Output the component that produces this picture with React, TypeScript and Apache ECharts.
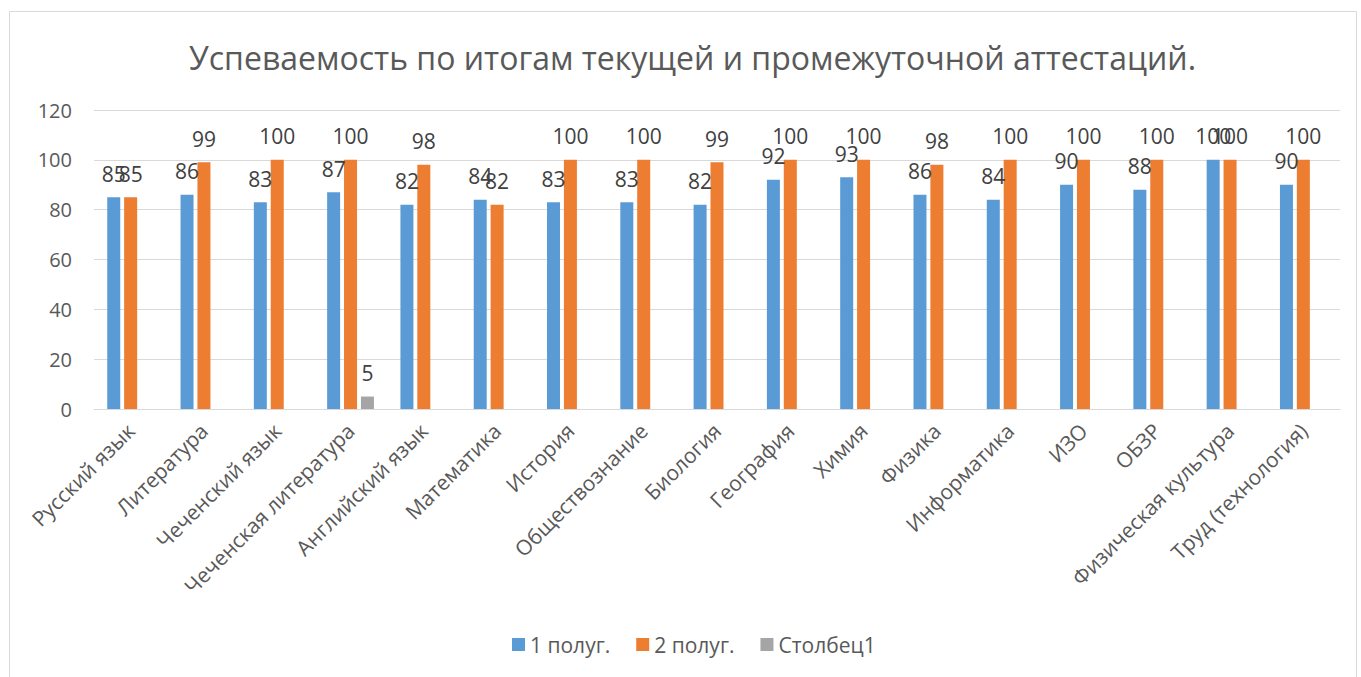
import React, { useEffect, useRef } from "react";
import * as echarts from "echarts";

const categories = [
  "Русский язык", "Литература", "Чеченский язык", "Чеченская литература",
  "Английский язык", "Математика", "История", "Обществознание", "Биология",
  "География", "Химия", "Физика", "Информатика", "ИЗО", "ОБЗР",
  "Физическая культура", "Труд (технология)",
];
const sem1 = [85, 86, 83, 87, 82, 84, 83, 83, 82, 92, 93, 86, 84, 90, 88, 100, 90];
const sem2 = [85, 99, 100, 100, 98, 82, 100, 100, 99, 100, 100, 98, 100, 100, 100, 100, 100];
const col1 = [null, null, null, 5, null, null, null, null, null, null, null, null, null, null, null, null, null];
const yTicks = { min: 0, max: 120, interval: 20 };

const FONT = "'Open Sans', 'Noto Sans', sans-serif";
const TXT = "#595959";

export default function App() {
  const ref = useRef<HTMLDivElement>(null);
  useEffect(() => {
    const chart = echarts.init(ref.current!, null, { renderer: "svg" });
    const label = {
      show: true,
      position: "top",
      distance: 13,
      color: "#404040",
      fontSize: 21,
      fontFamily: FONT,
    };
    chart.setOption({
      animation: false,
      textStyle: { fontFamily: FONT },
      title: {
        text: "Успеваемость по итогам текущей и промежуточной аттестаций.",
        left: 184,
        top: 36,
        textStyle: { fontSize: 32, fontWeight: "normal", color: TXT, fontFamily: FONT },
      },
      graphic: [
        {
          type: "rect",
          shape: { x: 9.5, y: 11.5, width: 1347, height: 680 },
          style: { fill: "none", stroke: "#d9d9d9", lineWidth: 1 },
          silent: true,
        },
      ],
      legend: {
        bottom: 17,
        left: 507,
        itemWidth: 13,
        itemHeight: 13,
        itemGap: 26,
        icon: "rect",
        textStyle: { fontSize: 21, color: TXT, fontFamily: FONT },
        data: ["1 полуг.", "2 полуг.", "Столбец1"],
      },
      grid: { left: 94, right: 21, top: 110, bottom: 268, containLabel: false },
      xAxis: {
        type: "category",
        data: categories,
        axisLine: { lineStyle: { color: "#d9d9d9", width: 1 } },
        axisTick: { show: false },
        axisLabel: {
          rotate: 45,
          interval: 0,
          margin: 18,
          fontSize: 21,
          color: TXT,
          fontFamily: FONT,
        },
      },
      yAxis: {
        type: "value",
        min: yTicks.min,
        max: yTicks.max,
        interval: yTicks.interval,
        axisLine: { show: false },
        axisTick: { show: false },
        splitLine: { lineStyle: { color: "#d9d9d9", width: 1 } },
        axisLabel: { fontSize: 20, color: TXT, margin: 22, fontFamily: FONT },
      },
      series: [
        {
          name: "1 полуг.",
          type: "bar",
          data: sem1,
          barWidth: 13,
          barGap: "30%",
          itemStyle: { color: "#5B9BD5" },
          label,
        },
        {
          name: "2 полуг.",
          type: "bar",
          data: sem2,
          barWidth: 13,
          barGap: "30%",
          itemStyle: { color: "#ED7D31" },
          label,
        },
        {
          name: "Столбец1",
          type: "bar",
          data: col1,
          barWidth: 13,
          barGap: "30%",
          itemStyle: { color: "#A5A5A5" },
          label,
        },
      ],
    });
    return () => chart.dispose();
  }, []);
  return (
    <div
      ref={ref}
      style={{ position: "absolute", left: 0, top: 0, width: 1361, height: 677, background: "#fff" }}
    />
  );
}
